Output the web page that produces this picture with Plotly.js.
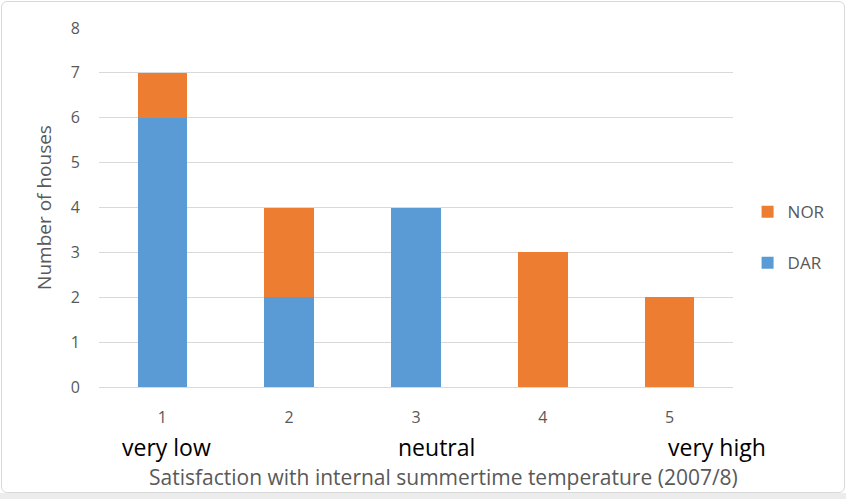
<!DOCTYPE html>
<html>
<head>
<meta charset="utf-8">
<script src="https://cdn.plot.ly/plotly-3.0.1.min.js"></script>
<style>
html,body{margin:0;padding:0;background:#fff;}
#wrap{position:relative;width:846px;height:499px;}
#chart{width:846px;height:499px;}
#frame{position:absolute;left:1px;top:1px;width:842px;height:490px;border:1px solid #d9d9d9;border-radius:6px;pointer-events:none;}
#strip{position:absolute;left:0;top:493px;width:846px;height:6px;background:#ececec;pointer-events:none;}
</style>
</head>
<body>
<div id="wrap"><div id="chart"></div><div id="frame"></div><div id="strip"></div></div>
<script>
const categories = ["1", "2", "3", "4", "5"];
const darValues = [6, 2, 4, 0, 0];
const norValues = [1, 2, 0, 3, 2];
const scaleLabels = ["very low", "", "neutral", "", "very high"];
const xTitle = "Satisfaction with internal summertime temperature (2007/8)";
const yTitle = "Number of houses";

const font = "'Open Sans', sans-serif";
const traces = [
  {type: "bar", name: "DAR", x: categories, y: darValues, marker: {color: "#5B9BD5"}, legendgroup: "a", legendrank: 2},
  {type: "bar", name: "NOR", x: categories, y: norValues, marker: {color: "#ED7D31"}, legendgroup: "b", legendrank: 1}
];
const shifts = [4, 0, 20, 0, 47];
const annotations = [];
scaleLabels.forEach((t, i) => {
  if (!t) return;
  annotations.push({
    x: i, xref: "x", y: 0, yref: "paper", yshift: -60, xshift: shifts[i], text: t, showarrow: false,
    font: {family: font, size: 23, color: "#000"}, xanchor: "center", yanchor: "middle", borderpad: 0
  });
});
annotations.push({
  x: 0.5, xref: "paper", y: 0, yref: "paper", yshift: -90, xshift: 27, text: xTitle, showarrow: false,
  font: {family: font, size: 21, color: "#595959"}, xanchor: "center", yanchor: "middle", borderpad: 0
});
const layout = {
  width: 846, height: 499,
  margin: {l: 99, r: 113, t: 28, b: 112},
  barmode: "stack", bargap: 0.61,
  paper_bgcolor: "#fff", plot_bgcolor: "#fff",
  font: {family: font, color: "#595959", size: 16},
  xaxis: {
    type: "category", range: [-0.5, 4.5], autorange: false,
    showgrid: false, zeroline: false, showline: true, linecolor: "#d9d9d9",
    ticks: "", tickfont: {size: 16, color: "#595959"}, ticklabelstandoff: 16
  },
  yaxis: {
    range: [0, 8], dtick: 1, showgrid: true, gridcolor: "#d9d9d9", zeroline: false,
    ticks: "", tickfont: {size: 16, color: "#595959"}, ticklabelstandoff: 18,
    title: {text: yTitle, font: {size: 19, color: "#595959"}, standoff: 14}
  },
  legend: {
    x: 1.023, xanchor: "left", y: 0.416, yanchor: "middle", traceorder: "grouped",
    font: {size: 17, color: "#595959"}, tracegroupgap: 26, itemwidth: 30,
    bgcolor: "rgba(0,0,0,0)"
  },
  annotations: annotations
};
Plotly.newPlot("chart", traces, layout, {displayModeBar: false, staticPlot: true});
</script>
</body>
</html>
